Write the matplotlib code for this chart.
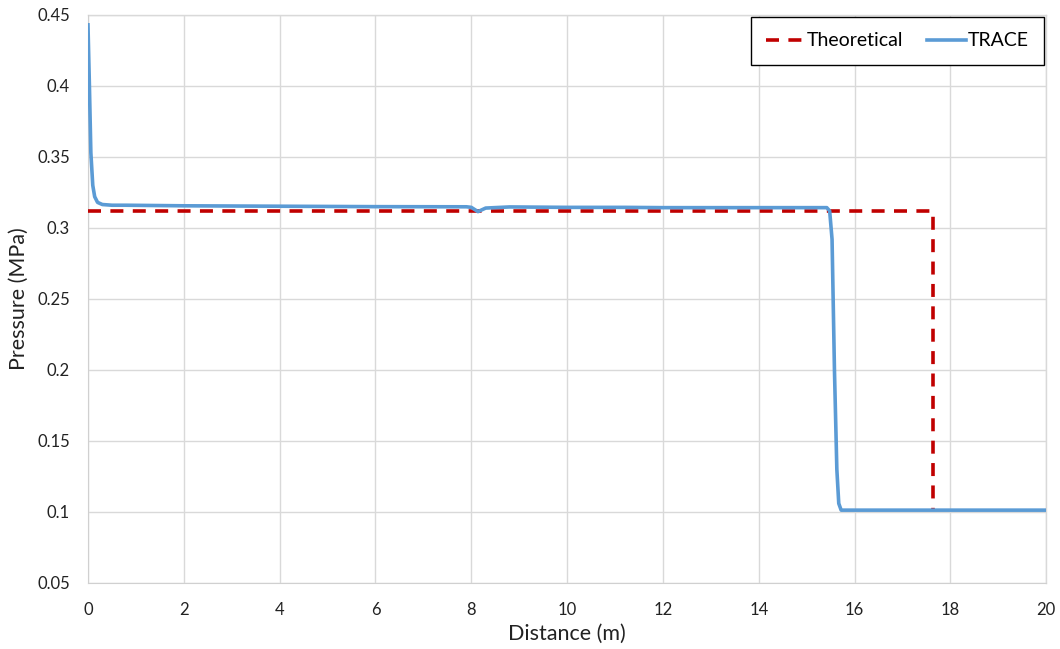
import matplotlib.pyplot as plt

plt.rcParams['font.family'] = ['Lato', 'DejaVu Sans']

# Theoretical shock profile
theo_x = [0, 17.64, 17.64]
theo_y = [0.3122, 0.3122, 0.101]

# TRACE result
trace_x = [0, 0.03, 0.06, 0.1, 0.14, 0.2, 0.3, 0.5, 0.8, 2.0, 4.0, 6.0, 7.9,
           8.0, 8.14, 8.3, 8.8, 10.0, 11.2, 12.0, 14.0, 15.42, 15.48, 15.53,
           15.58, 15.63, 15.67, 15.72, 16.0, 20.0]
trace_y = [0.443, 0.40, 0.353, 0.330, 0.322, 0.318, 0.3165, 0.316, 0.316,
           0.3156, 0.3153, 0.3150, 0.3149, 0.3145, 0.3115, 0.3140, 0.3148,
           0.3145, 0.3145, 0.3143, 0.3143, 0.3143, 0.312, 0.292, 0.20, 0.13,
           0.106, 0.1013, 0.1013, 0.1013]

fig = plt.figure(figsize=(10.6, 6.49), dpi=100)
ax = fig.add_axes([0.083, 0.1017, 0.904, 0.8753])

ax.plot(theo_x, theo_y, color='#C00000', lw=2.6, dashes=(3.6, 2.6),
        label='Theoretical', zorder=3)
ax.plot(trace_x, trace_y, color='#5B9BD5', lw=2.6, label='TRACE', zorder=4)

ax.set_xlim(0, 20)
ax.set_ylim(0.05, 0.45)
ax.set_xticks(range(0, 21, 2))
ax.set_yticks([0.05, 0.1, 0.15, 0.2, 0.25, 0.3, 0.35, 0.4, 0.45])
ax.set_yticklabels(['0.05', '0.1', '0.15', '0.2', '0.25', '0.3', '0.35', '0.4', '0.45'])
ax.tick_params(length=0, labelsize=12, colors='#222222')
ax.tick_params(axis='x', pad=14)
ax.tick_params(axis='y', pad=13)

ax.grid(True, color='#d9d9d9', lw=1)
for s in ax.spines.values():
    s.set_visible(False)
ax.spines['left'].set_visible(True)
ax.spines['bottom'].set_visible(True)
ax.spines['left'].set_color('#d0d0d0')
ax.spines['bottom'].set_color('#d0d0d0')
ax.axhline(0.45, color='#d9d9d9', lw=1, clip_on=False)
ax.axvline(20, color='#d9d9d9', lw=1, clip_on=False)

ax.set_xlabel('Distance (m)', fontsize=15.5, color='#222222', labelpad=4)
ax.set_ylabel('Pressure (MPa)', fontsize=15.5, color='#222222', labelpad=6)

leg = ax.legend(loc='upper right', ncol=2, fontsize=14, frameon=True,
                fancybox=False, edgecolor='black', framealpha=1,
                handlelength=2.0, handletextpad=0.1, columnspacing=1.2,
                borderpad=0.8, borderaxespad=0.1)
leg.get_frame().set_linewidth(1.0)

fig.savefig('out.png', dpi=100)
